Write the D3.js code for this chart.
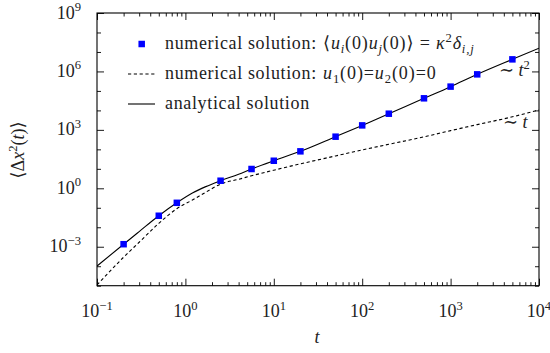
<!DOCTYPE html>
<html>
<head>
<meta charset="utf-8">
<script src="https://cdn.jsdelivr.net/npm/d3@7"></script>
<style>
  html, body { margin: 0; padding: 0; background: #fff; }
  svg { display: block; }
  svg text { font-family: "Liberation Serif", "Times New Roman", Times, "DejaVu Serif", "Noto Serif", serif; fill: #222; }
</style>
</head>
<body>
<svg id="chart" width="550" height="353"></svg>
<script>
// time grid used by both curves
const tGrid = [0.1, 0.2, 0.3, 0.5, 0.8, 1.2, 1.7, 2.5, 4, 5.6, 10, 20, 50, 100, 200, 500, 1000, 2000, 5000, 10000];
// analytical solution
const exactV = [1.02e-4, 1.35e-3, 6e-3, 0.039, 0.18, 0.57, 1.22, 2.45, 5.3, 9.8, 26, 79, 447, 1700, 6760, 41700, 166000, 708000, 4.17e6, 1.55e7];
// numerical solution u1(0)=u2(0)=0 (dashed)
const zeroV = [1.1e-5, 2.9e-4, 1.7e-3, 0.0158, 0.09, 0.25, 0.63, 1.65, 2.9, 4.4, 8.5, 18, 46, 93, 182, 437, 912, 1860, 4680, 10500];
// numerical solution with random initial velocity (squares)
const markT = [0.2, 0.5, 0.8, 2.5, 5.6, 10, 20, 50, 100, 200, 500, 1000, 2000, 5000];
const markV = [1.35e-3, 0.039, 0.18, 2.45, 9.8, 26, 79, 447, 1700, 6760, 41700, 166000, 708000, 4.17e6];

const xLabelTicks = [0.1, 1, 10, 100, 1000, 10000];
const xLabelExp = ["\u22121", "0", "1", "2", "3", "4"];
const yLabelTicks = [1e-3, 1, 1e3, 1e6, 1e9];
const yLabelExp = ["\u22123", "0", "3", "6", "9"];

const pLeft = 97, pRight = 539, pTop = 13, pBottom = 285.7;
const svg = d3.select("#chart");

const x = d3.scaleLog().domain([0.1, 1e4]).range([pLeft, pRight]);
const y = d3.scaleLog().domain([1e-5, 1e9]).range([pBottom, pTop]);

// minor ticks
const xMinor = x.ticks().filter(v => !xLabelTicks.some(m => Math.abs(m - v) / m < 1e-6));
const yDecades = d3.range(-5, 10).map(e => Math.pow(10, e));
const yMinor = yDecades.filter(v => !yLabelTicks.some(m => Math.abs(m - v) / m < 1e-6));

function tickAxis(gen, vals, size, tr) {
    svg.append("g")
        .attr("transform", tr)
        .call(gen.tickValues(vals).tickSizeInner(size).tickSizeOuter(0).tickFormat(""))
        .call(g => g.select(".domain").remove())
        .call(g => g.selectAll("line").attr("stroke", "#000").attr("stroke-width", 0.9));
}
tickAxis(d3.axisBottom(x), xLabelTicks, -7, `translate(0,${pBottom})`);
tickAxis(d3.axisBottom(x), xMinor, -3.5, `translate(0,${pBottom})`);
tickAxis(d3.axisTop(x), xLabelTicks, -7, `translate(0,${pTop})`);
tickAxis(d3.axisTop(x), xMinor, -3.5, `translate(0,${pTop})`);
tickAxis(d3.axisLeft(y), yLabelTicks, -7, `translate(${pLeft},0)`);
tickAxis(d3.axisLeft(y), yMinor, -4, `translate(${pLeft},0)`);
tickAxis(d3.axisRight(y), yLabelTicks, -7, `translate(${pRight},0)`);
tickAxis(d3.axisRight(y), yMinor, -4, `translate(${pRight},0)`);

// tick labels 10^n
function powLabel(xp, yp, exp, anchor) {
    const t = svg.append("text").attr("x", xp).attr("y", yp)
        .attr("text-anchor", anchor).style("font-size", "18px");
    t.append("tspan").text("10");
    t.append("tspan").attr("dy", -7.5).style("font-size", "12.6px").text(exp);
}
xLabelTicks.forEach((v, i) => powLabel(x(v), 317, xLabelExp[i], "middle"));
yLabelTicks.forEach((v, i) => powLabel(81, y(v) + 5.5, yLabelExp[i], "end"));

// curves
svg.append("clipPath").attr("id", "plotclip")
    .append("rect").attr("x", pLeft).attr("y", pTop)
    .attr("width", pRight - pLeft).attr("height", pBottom - pTop);
const plot = svg.append("g").attr("clip-path", "url(#plotclip)");

const line = d3.line().x(d => x(d[0])).y(d => y(d[1])).curve(d3.curveMonotoneX);
plot.append("path")
    .datum(tGrid.map((t, i) => [t, zeroV[i]]))
    .attr("d", line).attr("fill", "none")
    .attr("stroke", "#000").attr("stroke-width", 1.1).attr("stroke-dasharray", "3.2,2.6");
plot.append("path")
    .datum(tGrid.map((t, i) => [t, exactV[i]]))
    .attr("d", line).attr("fill", "none")
    .attr("stroke", "#000").attr("stroke-width", 1.1);

const ms = 6.5;
plot.selectAll("rect.mk")
    .data(markT.map((t, i) => [t, markV[i]]))
    .join("rect").attr("class", "mk")
    .attr("x", d => x(d[0]) - ms / 2).attr("y", d => y(d[1]) - ms / 2)
    .attr("width", ms).attr("height", ms).attr("fill", "#0000ff");

// frame
svg.append("rect").attr("x", pLeft).attr("y", pTop)
    .attr("width", pRight - pLeft).attr("height", pBottom - pTop)
    .attr("fill", "none").attr("stroke", "#000").attr("stroke-width", 1.1);

// rich text helper: segments [text, italic, shift, small]
function rich(xp, yp, segs, size) {
    const t = svg.append("text").attr("x", xp).attr("y", yp).style("font-size", size + "px");
    let cur = 0;
    segs.forEach(s => {
        const sp = t.append("tspan").text(s[0]);
        const sh = s[2] || 0;
        if (sh !== cur) { sp.attr("dy", sh - cur); cur = sh; }
        if (s[1]) sp.style("font-style", "italic");
        if (s[3]) sp.style("font-size", (size * 0.7) + "px");
    });
    return t;
}

// legend
const legY = [44, 74, 104];
svg.append("rect").attr("x", 141.7 - ms / 2).attr("y", legY[0] - ms / 2)
    .attr("width", ms).attr("height", ms).attr("fill", "#0000ff");
svg.append("line").attr("x1", 128).attr("x2", 155).attr("y1", legY[1]).attr("y2", legY[1])
    .attr("stroke", "#000").attr("stroke-width", 1.1).attr("stroke-dasharray", "3.2,2.6");
svg.append("line").attr("x1", 128).attr("x2", 155).attr("y1", legY[2]).attr("y2", legY[2])
    .attr("stroke", "#000").attr("stroke-width", 1.1);

const legTxt = ["numerical solution:", "numerical solution:", "analytical solution"];
legTxt.forEach((s, i) => {
    svg.append("text").attr("x", 165).attr("y", legY[i] + 5)
        .style("font-size", "18px").style("letter-spacing", "0.65px").text(s);
});
rich(323, legY[0] + 5, [
    ["\u27E8"], ["u", true], ["i", true, 4, true], ["(0)", false, 0], ["u", true],
    ["j", true, 4, true], ["(0)", false, 0], ["\u27E9 = "], ["\u03BA", true],
    ["2", false, -7, true], ["\u03B4", true, 0], ["i,j", true, 4, true]
], 18).style("letter-spacing", "0.85px");
rich(323, legY[1] + 5, [
    ["u", true], ["1", false, 4, true], ["(0)=", false, 0], ["u", true],
    ["2", false, 4, true], ["(0)=0", false, 0]
], 18).style("letter-spacing", "0.9px");

// slope annotations
rich(499, 76, [["\u223C "], ["t", true], ["2", false, -7, true]], 18);
rich(503, 128, [["\u223C "], ["t", true]], 18);

// axis titles
svg.append("text").attr("x", 317).attr("y", 343).attr("text-anchor", "middle")
    .style("font-size", "18px").style("font-style", "italic").text("t");
rich(0, 0, [["\u27E8\u0394"], ["x", true], ["2", false, -7, true], ["(", false, 0], ["t", true], [")\u27E9"]], 18)
    .attr("text-anchor", "middle")
    .attr("transform", "translate(24,150) rotate(-90)");
</script>
</body>
</html>
